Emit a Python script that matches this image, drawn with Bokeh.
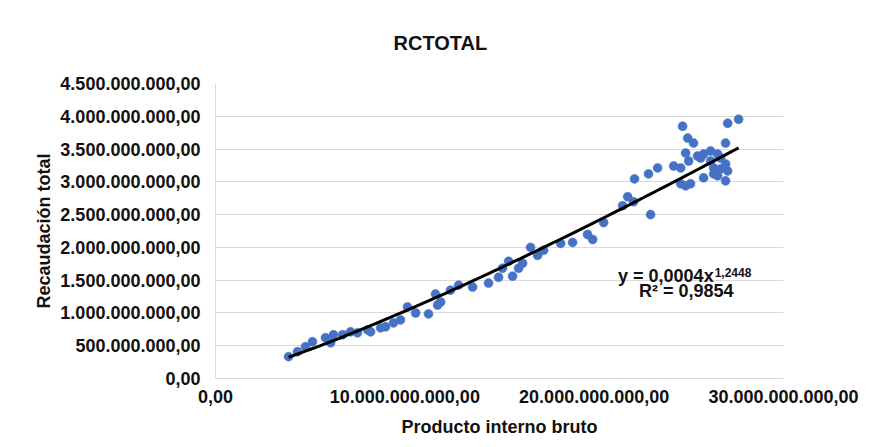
import numpy as np
from bokeh.plotting import figure
from bokeh.models import (ColumnDataSource, Range1d, FixedTicker, CustomJSTickFormatter,
                          Title)
from bokeh.core.properties import value
from bokeh.embed import file_html
from bokeh.resources import INLINE

# ---- data ----
pib = [3.86, 4.33, 4.75, 5.12, 5.81, 6.08, 6.23, 6.71, 7.13, 7.50,
       8.03, 8.19, 8.72, 8.98, 9.40, 9.77, 10.14, 10.57, 11.25, 11.73,
       11.89, 11.62, 12.41, 12.84, 13.58, 14.42, 14.95, 15.16, 15.48, 15.69,
       16.01, 16.22, 16.64, 17.01, 17.33, 18.23, 18.86, 19.65, 19.92, 20.50,
       21.50, 21.77, 22.08, 22.13, 22.98, 22.87, 23.35, 24.20, 24.57, 24.67,
       24.57, 24.83, 25.09, 24.94, 25.25, 24.83, 24.99, 25.46, 25.78, 26.15,
       25.62, 26.15, 26.52, 26.68, 25.78, 26.31, 26.68, 26.94, 27.05, 26.94,
       26.52, 26.94, 27.05, 27.63, 26.31]  # x 1e9
recaudacion = [0.333, 0.409, 0.485, 0.561, 0.621, 0.545, 0.667, 0.667, 0.712, 0.697,
               0.742, 0.712, 0.773, 0.788, 0.848, 0.894, 1.091, 1.000, 0.985, 1.121,
               1.167, 1.288, 1.348, 1.424, 1.394, 1.455, 1.545, 1.682, 1.788, 1.561,
               1.682, 1.758, 2.000, 1.879, 1.955, 2.061, 2.076, 2.197, 2.121, 2.379,
               2.636, 2.773, 2.697, 3.045, 2.500, 3.121, 3.212, 3.242, 3.212, 3.848,
               2.970, 2.939, 2.970, 3.667, 3.591, 3.439, 3.318, 3.394, 3.424, 3.470,
               3.364, 3.318, 3.424, 3.364, 3.061, 3.121, 3.197, 3.273, 3.167, 3.015,
               3.091, 3.591, 3.894, 3.955, 3.212]  # y 1e9

x_vals = [v * 1e9 for v in pib]
y_vals = [v * 1e9 for v in recaudacion]

x_ticks = [0, 10e9, 20e9, 30e9]
x_tick_labels = ["0,00", "10.000.000.000,00", "20.000.000.000,00", "30.000.000.000,00"]
y_ticks = [0, 0.5e9, 1.0e9, 1.5e9, 2.0e9, 2.5e9, 3.0e9, 3.5e9, 4.0e9, 4.5e9]
y_tick_labels = ["0,00", "500.000.000,00", "1.000.000.000,00", "1.500.000.000,00",
                 "2.000.000.000,00", "2.500.000.000,00", "3.000.000.000,00",
                 "3.500.000.000,00", "4.000.000.000,00", "4.500.000.000,00"]

title_text = "RCTOTAL"
x_title = "Producto interno bruto"
y_title = "Recaudación total"
eq_main = "y = 0,0004x"
eq_exp = "1,2448"
eq_r2 = "R² = 0,9854"

FONT = "Liberation Sans"
BLUE = "#4472C4"
GRID = "#d9d9d9"
INK = "#111111"

# power trendline (least squares in log-log space, like Excel)
lx = np.log(np.array(x_vals))
ly = np.log(np.array(y_vals))
b, a = np.polyfit(lx, ly, 1)
tx = np.linspace(min(x_vals), max(x_vals), 100)
ty = np.exp(a) * tx ** b

p = figure(width=860, height=440, output_backend="svg", toolbar_location=None,
           x_range=Range1d(0, 30e9), y_range=Range1d(0, 4.5e9),
           min_border_left=215, min_border_right=77, min_border_top=82,
           min_border_bottom=62)
p.outline_line_color = None
p.border_fill_color = "white"
p.background_fill_color = "white"

p.title = Title(text=title_text, align="left", offset=178, standoff=59,
                text_font=FONT, text_font_size="20px", text_font_style="bold",
                text_color=INK)

p.xgrid.grid_line_color = None
p.ygrid.grid_line_color = GRID
p.ygrid.grid_line_width = 1

for ax in (p.xaxis[0], p.yaxis[0]):
    ax.axis_line_color = GRID
    ax.major_tick_line_color = None
    ax.minor_tick_line_color = None
    ax.major_tick_out = 0
    ax.major_tick_in = 0
    ax.major_label_text_font = FONT
    ax.major_label_text_font_size = "18px"
    ax.major_label_text_font_style = "bold"
    ax.major_label_text_color = INK
    ax.axis_label_text_font = FONT
    ax.axis_label_text_font_size = "18px"
    ax.axis_label_text_font_style = "bold"
    ax.axis_label_text_color = INK

JS = "const i = tv.indexOf(tick); return i >= 0 ? lab[i] : '';"
p.xaxis.ticker = FixedTicker(ticks=x_ticks)
p.yaxis.ticker = FixedTicker(ticks=y_ticks)
p.xaxis.formatter = CustomJSTickFormatter(args=dict(tv=x_ticks, lab=x_tick_labels), code=JS)
p.yaxis.formatter = CustomJSTickFormatter(args=dict(tv=y_ticks, lab=y_tick_labels), code=JS)
p.xaxis.axis_label = x_title
p.yaxis.axis_label = y_title
p.xaxis.major_label_standoff = 11
p.yaxis.major_label_standoff = 15
p.xaxis.axis_label_standoff = 11
p.yaxis.axis_label_standoff = 3

src = ColumnDataSource(dict(x=x_vals, y=y_vals))
p.scatter("x", "y", source=src, size=9, fill_color=BLUE, line_color=BLUE, line_width=0.5)
p.line(tx, ty, line_color="black", line_width=3)

# trendline equation
p.text(x=[26.31e9], y=[1.56e9], text=[eq_main], text_align="right",
       text_baseline="alphabetic", text_font=value(FONT), text_font_size="18px",
       text_font_style="bold", text_color=INK)
p.text(x=[26.31e9], y=[1.56e9], text=[eq_exp], text_align="left", x_offset=1,
       y_offset=-4, text_baseline="alphabetic", text_font=value(FONT),
       text_font_size="12px", text_font_style="bold", text_color=INK)
p.text(x=[24.86e9], y=[1.333e9], text=[eq_r2], text_align="center",
       text_baseline="alphabetic", text_font=value(FONT), text_font_size="18px",
       text_font_style="bold", text_color=INK)

open("out.html", "w").write(file_html(p, INLINE))
